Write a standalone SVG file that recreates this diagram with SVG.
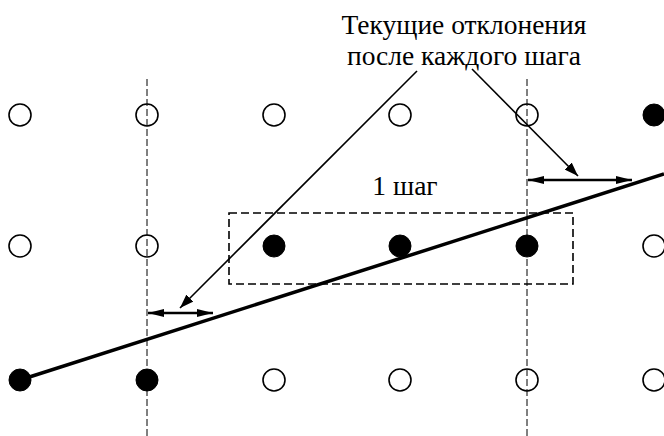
<svg xmlns="http://www.w3.org/2000/svg" width="664" height="436" viewBox="0 0 664 436">
<defs>
<style>
.o{fill:none;stroke:#000;stroke-width:1.6}
.f{fill:#000;stroke:#000;stroke-width:1}
.vd{stroke:#000;stroke-width:1;stroke-dasharray:7,3;fill:none}
.t{font-family:"Liberation Serif","Times New Roman",serif;font-size:27.5px;fill:#000}
.ld{stroke:#000;stroke-width:1.6;fill:none}
.da{stroke:#000;stroke-width:2.6;fill:none}
</style>
<marker id="ah" viewBox="0 0 16 8" refX="16" refY="4" markerWidth="16" markerHeight="8" markerUnits="userSpaceOnUse" orient="auto-start-reverse"><path d="M0,0L16,4L0,8Z" fill="#000"/></marker>
<marker id="la" viewBox="0 0 14 10" refX="14" refY="5" markerWidth="14" markerHeight="10" markerUnits="userSpaceOnUse" orient="auto"><path d="M0,0L14,5L0,10Z" fill="#000"/></marker>
</defs>
<rect width="664" height="436" fill="#fff"/>
<g id="gridlines">
<line class="vd" x1="147" y1="79" x2="147" y2="436"/>
<line class="vd" x1="527" y1="79" x2="527" y2="436"/>
</g>
<g id="step-box"><rect x="229" y="213" width="344" height="71" fill="none" stroke="#000" stroke-width="1.6" stroke-dasharray="8,4"/></g>
<g id="points">
<circle class="o" cx="20" cy="115" r="11"/><circle class="o" cx="147" cy="115" r="11"/><circle class="o" cx="274" cy="115" r="11"/><circle class="o" cx="400" cy="115" r="11"/><circle class="o" cx="527" cy="115" r="11"/><circle class="f" cx="654" cy="115" r="11"/>
<circle class="o" cx="20" cy="246" r="11"/><circle class="o" cx="147" cy="246" r="11"/><circle class="f" cx="274" cy="246" r="11"/><circle class="f" cx="400" cy="246" r="11"/><circle class="f" cx="527" cy="246" r="11"/><circle class="o" cx="654" cy="246" r="11"/>
<circle class="f" cx="20" cy="380" r="11"/><circle class="f" cx="147" cy="380" r="11"/><circle class="o" cx="274" cy="380" r="11"/><circle class="o" cx="400" cy="380" r="11"/><circle class="o" cx="527" cy="380" r="11"/><circle class="o" cx="654" cy="380" r="11"/>
</g>
<g id="connectors">
<line x1="20" y1="380" x2="664" y2="174" stroke="#000" stroke-width="3.5"/>
<line class="ld" x1="417" y1="71" x2="180" y2="308" marker-end="url(#la)"/>
<line class="ld" x1="472" y1="69" x2="578" y2="176" marker-end="url(#la)"/>
<line class="da" x1="528" y1="180" x2="632" y2="180" marker-start="url(#ah)" marker-end="url(#ah)"/>
<line class="da" x1="148" y1="313" x2="213" y2="313" marker-start="url(#ah)" marker-end="url(#ah)"/>
</g>
<g id="labels">
<text class="t" x="464" y="34" text-anchor="middle">Текущие отклонения</text>
<text class="t" x="464" y="65" text-anchor="middle">после каждого шага</text>
<text class="t" x="405" y="195" text-anchor="middle">1 шаг</text>
</g>
</svg>
